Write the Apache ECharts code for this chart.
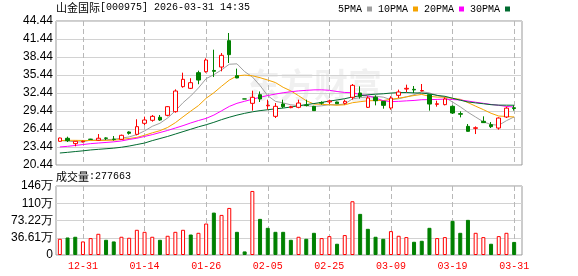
<!DOCTYPE html>
<html><head><meta charset="utf-8">
<script src="https://cdn.jsdelivr.net/npm/echarts@6/dist/echarts.min.js"></script>
<style>html,body{margin:0;padding:0;background:#fff}#c{width:578px;height:276px}</style>
</head><body><div id="c"></div>
<script>
const dates = ['12-26','12-29','12-30','12-31','01-05','01-06','01-07','01-08','01-09','01-12','01-13','01-14','01-15','01-16','01-19','01-20','01-21','01-22','01-23','01-26','01-27','01-28','01-29','01-30','02-02','02-03','02-04','02-05','02-06','02-09','02-10','02-11','02-12','02-13','02-24','02-25','02-26','02-27','03-02','03-03','03-04','03-05','03-06','03-09','03-10','03-11','03-12','03-13','03-16','03-17','03-18','03-19','03-20','03-23','03-24','03-25','03-26','03-27','03-30','03-31'];
const opens  = [24.39,24.89,24.00,24.30,24.75,24.57,24.95,24.75,24.72,25.94,25.55,27.39,27.89,28.39,28.72,29.33,33.50,33.22,35.83,35.99,36.20,36.77,41.16,35.33,31.45,30.72,32.16,30.30,28.55,30.61,30.00,30.05,30.45,30.22,30.85,30.95,30.94,30.72,31.72,32.44,30.05,31.72,31.05,29.94,32.05,33.10,33.05,32.80,32.16,30.55,30.50,30.22,29.00,26.88,26.55,27.72,27.16,26.60,28.44,29.98];
const closes = [24.94,24.50,24.39,24.40,24.70,24.90,24.88,24.70,25.39,25.72,26.83,27.94,28.55,27.94,30.16,32.77,34.72,34.16,34.60,37.94,36.05,38.72,38.83,34.95,31.45,31.72,31.44,30.40,30.22,30.16,30.15,30.77,30.35,29.50,30.75,31.10,30.66,31.05,33.72,31.88,31.61,31.16,30.38,31.60,32.61,33.22,32.95,32.85,30.60,30.65,31.44,29.10,28.90,26.05,26.65,27.50,26.83,28.27,29.92,29.86];
const lows   = [24.33,24.27,23.55,24.20,24.60,24.50,24.60,24.50,24.65,25.50,25.39,27.10,27.66,27.80,28.55,29.16,33.32,33.10,33.90,35.83,35.10,36.05,37.44,34.90,31.45,29.50,30.94,29.66,28.27,29.94,29.90,29.90,30.20,29.45,30.50,30.60,30.60,30.50,31.33,31.50,29.94,30.38,29.83,29.66,31.60,32.60,32.44,32.70,29.50,30.16,30.38,28.94,28.38,26.00,25.60,27.44,26.60,26.33,28.27,29.50];
const highs  = [25.00,25.16,24.45,24.50,24.80,25.60,25.05,25.27,25.50,26.05,28.06,28.50,28.77,28.77,30.27,33.05,35.83,34.90,36.16,38.22,39.66,39.10,42.44,36.50,31.45,32.83,32.70,31.33,30.77,31.33,30.30,31.33,31.33,30.30,31.05,31.33,31.00,31.33,33.94,33.55,31.90,32.05,31.10,31.90,33.00,33.83,33.60,33.94,32.20,31.16,31.72,30.38,29.38,27.27,26.88,28.55,27.60,28.38,30.16,30.38];
const volumes = [344000,372000,387000,288000,359000,450000,323000,288000,387000,366000,535000,492000,387000,323000,408000,492000,535000,435000,471000,668000,900000,851000,999000,492000,76000,1359000,767000,577000,492000,492000,323000,387000,344000,471000,359000,401000,239000,423000,1141000,873000,556000,387000,344000,507000,408000,380000,281000,302000,577000,359000,380000,725000,471000,746000,471000,380000,239000,401000,471000,277663];
const volUp = [1,0,0,1,1,1,0,0,1,1,1,1,1,0,1,1,1,0,1,1,0,1,1,0,0,1,0,0,0,0,0,1,0,0,1,1,0,1,1,0,0,0,0,1,1,1,0,0,0,1,1,0,0,0,1,1,0,1,1,0];
const ma5  = [24.50,24.45,24.30,24.30,24.59,24.58,24.66,24.72,24.92,25.12,25.51,26.12,26.89,27.40,28.28,29.47,30.83,31.95,33.28,34.84,35.49,36.29,37.23,37.30,36.00,35.13,33.68,31.99,31.05,30.79,30.47,30.34,30.33,30.19,30.30,30.49,30.47,30.61,31.46,31.68,31.78,31.88,31.75,31.33,31.47,31.79,32.15,32.65,32.45,32.05,31.70,30.93,30.14,29.23,28.43,27.64,27.19,27.06,27.83,28.45];
const ma10 = [24.52,24.55,24.55,24.53,24.52,24.52,24.55,24.58,24.70,24.85,25.04,25.39,25.80,26.16,26.70,27.49,28.47,29.42,30.34,31.56,32.48,33.56,34.59,35.29,35.42,35.31,34.99,34.60,34.18,33.39,32.79,31.99,31.15,30.60,30.55,30.48,30.41,30.47,30.82,30.99,31.14,31.18,31.18,31.39,31.58,31.79,32.02,32.20,31.89,31.76,31.75,31.54,31.39,30.84,30.24,29.67,29.06,28.60,28.53,28.44];
const ma20 = [23.45,23.55,23.70,23.85,24.00,24.10,24.20,24.30,24.45,24.70,24.90,25.20,25.50,25.85,26.20,26.60,27.00,27.45,27.85,28.21,28.76,29.47,30.20,30.72,31.06,31.40,31.73,32.02,32.26,32.48,32.65,32.79,32.88,32.96,32.97,32.89,32.69,32.53,32.49,32.19,31.96,31.59,31.16,31.00,31.05,31.13,31.20,31.32,31.34,31.37,31.43,31.35,31.28,31.10,30.90,30.72,30.53,30.39,30.20,30.10];
const ma30 = [22.44,22.55,22.68,22.80,22.95,23.05,23.15,23.25,23.40,23.60,23.85,24.10,24.50,24.85,25.20,25.60,26.00,26.40,26.80,27.15,27.55,28.00,28.40,28.75,29.05,29.30,29.50,29.65,29.80,29.93,30.10,30.31,30.51,30.68,30.88,31.09,31.28,31.49,31.77,31.98,32.14,32.24,32.31,32.43,32.51,32.52,32.46,32.42,32.29,32.04,31.89,31.57,31.24,30.95,30.79,30.65,30.49,30.42,30.41,30.40];
const tickDates = ['12-31','01-14','01-26','02-05','02-25','03-09','03-19','03-31'];
const priceMin = 20.44, priceMax = 44.44, priceStep = 3;
const volMax = 1464400, volStep = 366100;
const maNames = ['5PMA','10PMA','20PMA','30PMA'];
const stockTitle = '山金国际';
const stockCode = '[000975] 2026-03-31 14:35';

const RED = '#ff0000', GREEN = '#008000';
const monoFont = "'Liberation Mono', 'DejaVu Sans Mono', monospace";
const cjkFont = "'Noto Sans CJK SC', sans-serif";
const labelFont = "'Liberation Sans', Arial, sans-serif";

const chart = echarts.init(document.getElementById('c'), null, {renderer: 'canvas'});
const gridBorder = '#999';
const splitH = {show: true, lineStyle: {color: '#d2d2d2', width: 1}};
const tickInterval = (idx, val) => tickDates.indexOf(val) >= 0;
const splitV = {show: true, alignWithLabel: true, interval: tickInterval,
  lineStyle: {color: '#b8b8b8', type: [5, 3], width: 1}};

const candleData = dates.map((d, i) => [opens[i], closes[i], lows[i], highs[i]]);
const volData = volumes.map((v, i) => ({
  value: v,
  itemStyle: volUp[i] ? {color: '#fff', borderColor: RED, borderWidth: 1}
                      : {color: GREEN, borderColor: GREEN, borderWidth: 1}
}));

function volLabel(v) {
  if (v === 0) return '0';
  const w = v / 10000;
  return (w >= 100 ? Math.round(w) : w.toFixed(2)) + '万';
}

const maColors = ['#a0a0a0', '#f5a300', '#ff00ff', '#006b30'];
const maData = [ma5, ma10, ma20, ma30];
const richText = {c: {fontFamily: cjkFont, fontSize: 11, fontWeight: 'normal', color: '#000'},
                  a: {fontFamily: monoFont, fontSize: 10, fontWeight: 'normal', color: '#000'}};

const option = {
  animation: false,
  backgroundColor: '#fff',
  title: [
    {text: '{c|' + stockTitle + '}{a|' + stockCode + '}', left: 56, top: 2, padding: 0,
     textStyle: {fontWeight: 'normal', rich: richText}},
    {text: '{c|成交量}{a|:' + volumes[volumes.length - 1] + '}', left: 56, top: 171, padding: 0,
     textStyle: {fontWeight: 'normal', rich: richText}}
  ],
  legend: {
    data: maNames, left: 338, top: 4, padding: 0, align: 'right', icon: 'rect',
    itemWidth: 5, itemHeight: 5, itemGap: 6, selectedMode: false,
    textStyle: {fontFamily: monoFont, fontSize: 10, color: '#000'}
  },
  graphic: [{
    type: 'text', left: 246, top: 68, z: -1,
    style: {text: '东方财富', font: 'bold 34px ' + cjkFont, fill: 'rgba(0,0,0,0.06)'}
  }],
  grid: [
    {left: 56, top: 21, width: 466, height: 144, show: true, borderColor: gridBorder, borderWidth: 1, backgroundColor: 'transparent'},
    {left: 56, top: 21, width: 462, height: 144},
    {left: 56, top: 186, width: 466, height: 69, show: true, borderColor: gridBorder, borderWidth: 1, backgroundColor: 'transparent'},
    {left: 56, top: 186, width: 462, height: 69}
  ],
  xAxis: [
    {type: 'value', gridIndex: 0, min: 0, max: 1, show: false},
    {type: 'category', gridIndex: 1, data: dates, boundaryGap: true,
     axisLine: {show: false}, axisTick: {show: false}, axisLabel: {show: false}, splitLine: splitV},
    {type: 'value', gridIndex: 2, min: 0, max: 1, show: false},
    {type: 'category', gridIndex: 3, data: dates, boundaryGap: true,
     axisLine: {show: false}, axisTick: {show: false},
     axisLabel: {show: true, interval: tickInterval, color: RED, fontFamily: monoFont, fontSize: 10, margin: 6},
     splitLine: splitV}
  ],
  yAxis: [
    {type: 'value', gridIndex: 0, min: priceMin, max: priceMax, interval: priceStep,
     axisLine: {show: false}, axisTick: {show: false},
     axisLabel: {color: '#000', fontFamily: labelFont, fontSize: 12, margin: 3, formatter: v => v.toFixed(2)},
     splitLine: splitH},
    {type: 'value', gridIndex: 1, min: priceMin, max: priceMax, show: false, splitLine: {show: false}},
    {type: 'value', gridIndex: 2, min: 0, max: volMax, interval: volStep,
     axisLine: {show: false}, axisTick: {show: false},
     axisLabel: {color: '#000', fontFamily: labelFont, fontSize: 12, margin: 3, formatter: volLabel},
     splitLine: splitH},
    {type: 'value', gridIndex: 3, min: 0, max: volMax, show: false, splitLine: {show: false}}
  ],
  series: [
    ...maNames.map((n, k) => ({
      name: n, type: 'line', xAxisIndex: 1, yAxisIndex: 1, data: maData[k],
      showSymbol: false, symbol: 'none', color: maColors[k], z: 2,
      lineStyle: {width: 1, color: maColors[k]}
    })),
    {type: 'candlestick', xAxisIndex: 1, yAxisIndex: 1, data: candleData, barWidth: 4, z: 3,
     itemStyle: {color: '#fff', color0: GREEN, borderColor: RED, borderColor0: GREEN, borderWidth: 1}},
    {type: 'bar', xAxisIndex: 3, yAxisIndex: 3, data: volData, barWidth: 4}
  ]
};
chart.setOption(option);
</script></body></html>
